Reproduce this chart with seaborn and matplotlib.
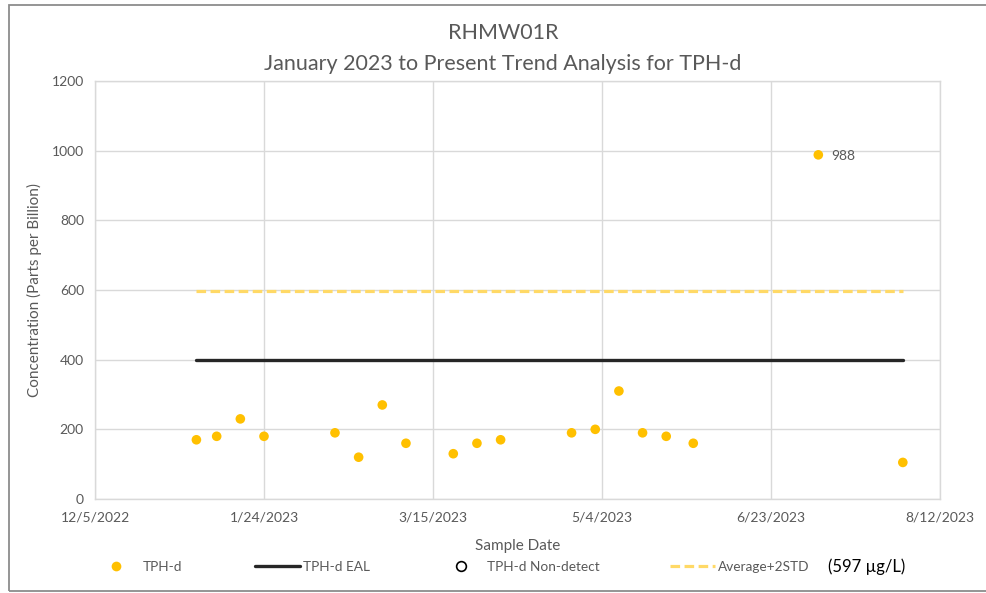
import matplotlib
matplotlib.use("Agg")
import matplotlib.pyplot as plt
from matplotlib.lines import Line2D
from matplotlib.patches import Rectangle
import seaborn as sns
import pandas as pd

# Sample dates and TPH-d results (ppb)
sample_dates = ["2023-01-04", "2023-01-10", "2023-01-17", "2023-01-24",
                "2023-02-14", "2023-02-21", "2023-02-28", "2023-03-07",
                "2023-03-21", "2023-03-28", "2023-04-04", "2023-04-25",
                "2023-05-02", "2023-05-09", "2023-05-16", "2023-05-23",
                "2023-05-31", "2023-07-07", "2023-08-01"]
tph_d = [170, 180, 230, 180, 190, 120, 270, 160, 130, 160, 170, 190,
         200, 310, 190, 180, 160, 988, 105]

# Reference levels
eal_value = 400
avg_2std = 597
line_dates = ["2023-01-04", "2023-08-01"]

x_ticks = ["2022-12-05", "2023-01-24", "2023-03-15", "2023-05-04",
           "2023-06-23", "2023-08-12"]
y_ticks = [0, 200, 400, 600, 800, 1000, 1200]

FONT = ["Lato", "DejaVu Sans"]
GRAY = "#595959"
GOLD = "#FFC000"
PALE = "#FFD966"

sns.set_theme(style="white")
plt.rcParams["font.family"] = FONT

df = pd.DataFrame({"date": pd.to_datetime(sample_dates), "value": tph_d})
lines = pd.DataFrame({"date": pd.to_datetime(line_dates),
                      "eal": [eal_value] * 2, "avg": [avg_2std] * 2})

fig = plt.figure(figsize=(9.87, 5.93), dpi=100)
ax = fig.add_axes([95 / 987, 1 - 499 / 593, 845 / 987, 418 / 593])

sns.lineplot(data=lines, x="date", y="avg", ax=ax, color=PALE, lw=2.3,
             dashes=False, zorder=2)
ax.lines[-1].set_dashes((3, 1.4))
sns.lineplot(data=lines, x="date", y="eal", ax=ax, color="#262626", lw=2.4,
             zorder=3)
sns.scatterplot(data=df, x="date", y="value", ax=ax, color=GOLD, s=48,
                edgecolor="none", zorder=4)

# Label the peak result
peak = df.loc[df["value"].idxmax()]
ax.annotate(f"{peak['value']}", (peak["date"], peak["value"]),
            xytext=(9, -1), textcoords="offset points", va="center",
            ha="left", fontsize=10, color=GRAY)

xt = pd.to_datetime(x_ticks)
ax.set_xlim(xt[0], xt[-1])
ax.set_xticks(xt)
ax.set_xticklabels([f"{d.month}/{d.day}/{d.year}" for d in xt])
ax.set_ylim(0, 1200)
ax.set_yticks(y_ticks)
ax.tick_params(axis="both", length=0, labelsize=10, labelcolor=GRAY)
ax.tick_params(axis="x", pad=9)
ax.tick_params(axis="y", pad=8)
ax.grid(True, color="#d9d9d9", lw=1)
for s in ax.spines.values():
    s.set_color("#d9d9d9")
    s.set_linewidth(1)

ax.set_xlabel("Sample Date", fontsize=11, color=GRAY, labelpad=11)
ax.set_ylabel("Concentration (Parts per Billion)", fontsize=11,
              color=GRAY, labelpad=7)

fig.text(503 / 987, 1 - 33 / 593, "RHMW01R", ha="center", va="center",
         fontsize=15.5, color=GRAY)
fig.text(503 / 987, 1 - 64 / 593,
         "January 2023 to Present Trend Analysis for TPH-d",
         ha="center", va="center", fontsize=15.5, color=GRAY)

# Legend entries placed along the bottom
entries = [
    (Line2D([], [], ls="none", marker="o", ms=7, color=GOLD, mec="none"),
     "TPH-d", 94),
    (Line2D([], [], color="#262626", lw=2.4), "TPH-d EAL", 255),
    (Line2D([], [], ls="none", marker="o", ms=7, mfc="white", mec="black",
            mew=1.2), "TPH-d Non-detect", 439),
    (Line2D([], [], color=PALE, lw=2.3, dashes=(3, 1.4)),
     "Average+2STD", 670),
]
for handle, label, xpix in entries:
    fig.legend(handles=[handle], labels=[label], loc="center left",
               bbox_to_anchor=(xpix / 987, 1 - 567 / 593),
               frameon=False, borderpad=0, borderaxespad=0,
               handlelength=3.3, handletextpad=0.25, fontsize=9.8,
               labelcolor=GRAY)
fig.text(828 / 987, 1 - 567 / 593, "(597 \u00b5g/L)", ha="left",
         va="center", fontsize=12, color="black")

# Chart frame
fig.patches.append(Rectangle((9 / 987, 2 / 593), 1.0, 586 / 593,
                             transform=fig.transFigure, fill=False,
                             edgecolor="#8c8c8c", lw=1.3, zorder=0))

fig.savefig("out.png", dpi=100)
